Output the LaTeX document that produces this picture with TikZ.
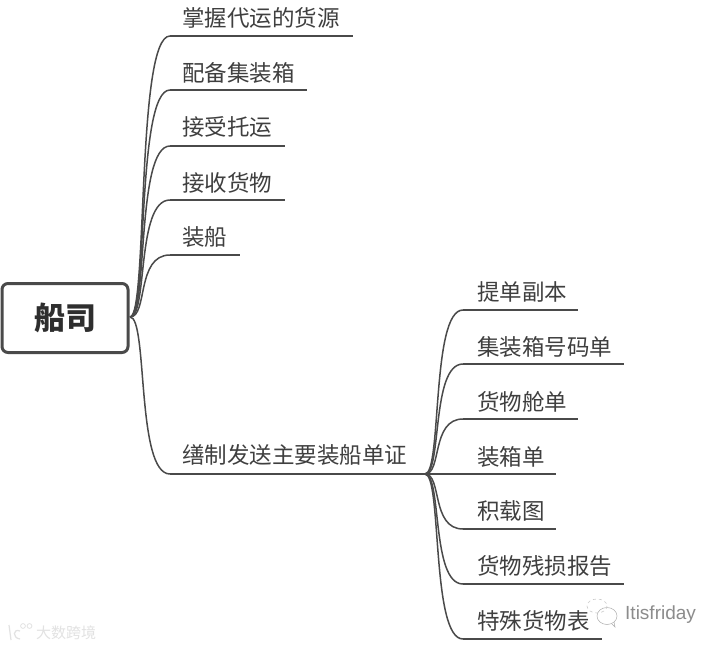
\documentclass[tikz,border=0pt]{standalone}
\usepackage{fontspec}
\setmainfont{Noto Sans CJK SC}
\newfontfamily\rootfont{Noto Sans CJK SC Black}
\newfontfamily\latinw{Liberation Sans}
\definecolor{ink}{HTML}{3F3F3F}
\definecolor{rootink}{HTML}{2E2E2E}
\definecolor{edge}{HTML}{4A4A4A}
\definecolor{wm}{HTML}{E2E2E2}
\definecolor{wmb}{HTML}{8C8C8C}
\tikzset{
  rootbox/.style={draw=edge,line width=3pt,rounded corners=6pt,fill=white,minimum width=126pt,minimum height=69pt,inner sep=0pt,text=rootink,font=\rootfont\fontsize{31}{31}\selectfont},
  leaf/.style={anchor=base west,inner sep=0pt,text=ink,font=\fontsize{22.5}{24}\selectfont},
  rule/.style={draw=edge,line width=1.5pt},
  link/.style={draw=edge,line width=1.5pt},
}
\begin{document}
\begin{tikzpicture}[x=1pt,y=-1pt]
\useasboundingbox (0,0) rectangle (720,647);
\fill[white] (0,0) rectangle (720,647);
% root
\node[rootbox] (root) at (65,318) {船司};
\coordinate (r) at (130,317);
% first-level labels
\node[leaf] (a1) at (182,26.5) {掌握代运的货源};
\node[leaf] (a2) at (182,81.5) {配备集装箱};
\node[leaf] (a3) at (182,136) {接受托运};
\node[leaf] (a4) at (182,191.5) {接收货物};
\node[leaf] (a5) at (182,245) {装船};
\node[leaf] (a6) at (182,463) {缮制发送主要装船单证};
% first-level rules
\foreach \n/\y/\e in {1/36/353,2/90/307,3/146/285,4/200/285,5/255/240,6/474/425}{
  \coordinate (as\n) at (170,\y);
  \coordinate (ae\n) at (\e,\y);
  \draw[rule] (as\n) -- (ae\n);
}
\draw[link] (r) .. controls (148,317) and (136,36) .. (as1);
\draw[link] (r) .. controls (148,317) and (136,90) .. (as2);
\draw[link] (r) .. controls (148,317) and (136,146) .. (as3);
\draw[link] (r) .. controls (148,317) and (136,200) .. (as4);
\draw[link] (r) .. controls (148,317) and (136,255) .. (as5);
\draw[link] (r) .. controls (148,317) and (136,474) .. (as6);
% second-level labels
\node[leaf] (b1) at (477,300) {提单副本};
\node[leaf] (b2) at (477,355) {集装箱号码单};
\node[leaf] (b3) at (477,410) {货物舱单};
\node[leaf] (b4) at (477,465) {装箱单};
\node[leaf] (b5) at (477,519) {积载图};
\node[leaf] (b6) at (477,574) {货物残损报告};
\node[leaf] (b7) at (477,629) {特殊货物表};
\foreach \n/\y/\e in {1/310/578,2/364/624,3/419/578,4/474/556,5/529/556,6/584/624,7/639/602}{
  \coordinate (bs\n) at (463,\y);
  \coordinate (be\n) at (\e,\y);
  \draw[rule] (bs\n) -- (be\n);
  \draw[link] (ae6) .. controls (442,474) and (431,\y) .. (bs\n);
}
% watermarks
\node[anchor=base west,inner sep=0pt,text=wm,font=\fontsize{15}{16}\selectfont] (w1) at (36,638) {大数跨境};
\draw[wm,line width=1.2pt] (9,625) -- (11,640) (20,631) .. controls (13,628) and (12,638) .. (20,639);
\draw[wm,line width=.8pt] (23,626) circle (2.4) (29.5,626) circle (2.4);
\node[anchor=base west,inner sep=0pt,text=wmb,font=\latinw\fontsize{19}{20}\selectfont] (w2) at (625,619) {Itisfriday};
\draw[wmb!70,line width=.5pt] (607,616) ellipse (10 and 8.5);
\draw[wmb!70,line width=.5pt] (612,624) -- (615,627) -- (614,622);
\draw[wmb!45,line width=.6pt,dashed] (597,606) ellipse (10 and 7);
\end{tikzpicture}
\end{document}
